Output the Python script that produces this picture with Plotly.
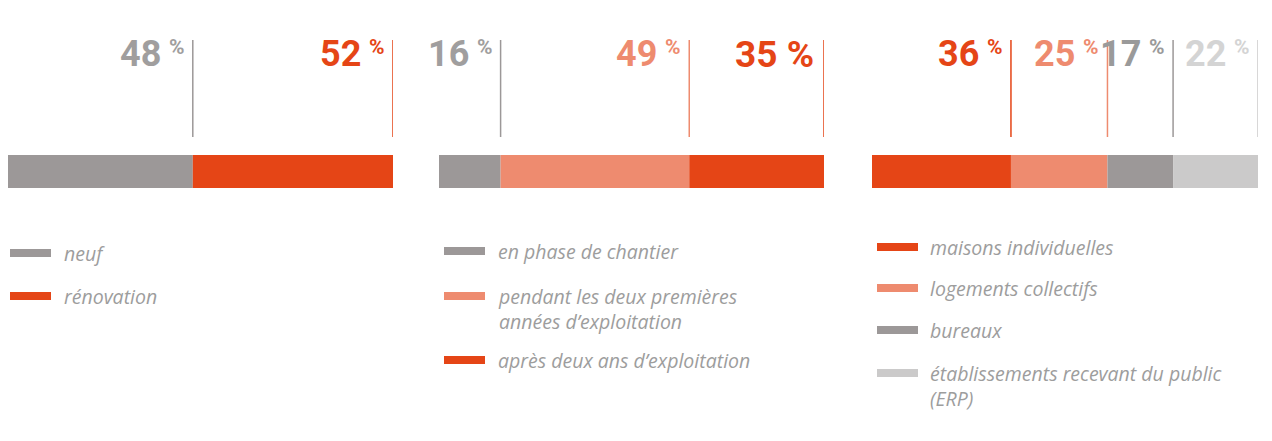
import plotly.graph_objects as go

# ---- data ----
p1_cats = ["neuf", "rénovation"]
p1_vals = [48, 52]
p2_cats = ["en phase de chantier",
           "pendant les deux premières<br>années d’exploitation",
           "après deux ans d’exploitation"]
p2_vals = [16, 49, 35]
p3_cats = ["maisons individuelles", "logements collectifs", "bureaux",
           "établissements recevant du public<br>(ERP)"]
p3_vals = [36, 25, 17, 22]

# ---- styles ----
GREY = "#9c9898"
RED = "#e54516"
SALMON = "#ee8b6f"
LIGHT = "#cbcaca"
p1_colors = [GREY, RED]
p2_colors = [GREY, SALMON, RED]
p3_colors = [RED, SALMON, GREY, LIGHT]
p1_lab = ["#a09e9e", RED]
p2_lab = ["#a09e9e", SALMON, RED]
p3_lab = [RED, SALMON, "#9a9a9a", "#d4d4d4"]
p2_bigpct = [False, False, True]

W, H = 1272, 441
def py(p):
    return 1 - p / H
def px(p):
    return p / W

panels = [
    dict(cats=p1_cats, vals=p1_vals, colors=p1_colors, lab=p1_lab, big=[False, False],
         dom=(8, 393), sw=(10, 51), tx=63, rows=[253, 296]),
    dict(cats=p2_cats, vals=p2_vals, colors=p2_colors, lab=p2_lab, big=p2_bigpct,
         dom=(439, 824), sw=(444, 485), tx=497, rows=[251, 296, 360]),
    dict(cats=p3_cats, vals=p3_vals, colors=p3_colors, lab=p3_lab, big=[False] * 4,
         dom=(872, 1258), sw=(877, 918), tx=929, rows=[247, 288, 330, 373]),
]

fig = go.Figure()
shapes = []
annotations = []
NUMFONT = "Roboto"
TXTFONT = "Open Sans"
LEGCOL = "#9d9d9d"
LEGSIZE = 19.5

for i, p in enumerate(panels):
    sfx = "" if i == 0 else str(i + 1)
    xa, ya = "x" + sfx, "y" + sfx
    cum = 0
    for cat, v, col, lc, big, row in zip(p["cats"], p["vals"], p["colors"], p["lab"], p["big"], p["rows"]):
        fig.add_trace(go.Bar(x=[v], y=[0], base=[cum], orientation="h", width=1,
                             marker=dict(color=col, line=dict(width=0)),
                             name=cat.replace("<br>", " "), showlegend=False,
                             xaxis=xa, yaxis=ya, hoverinfo="name+x"))
        end = cum + v
        # vertical marker line
        shapes.append(dict(type="line", xref=xa, yref="paper", x0=end, x1=end,
                           y0=py(137), y1=py(40), line=dict(color=col, width=1.5)))
        # value label
        if big:
            annotations.append(dict(xref=xa, yref="paper", x=end, y=py(32), xanchor="right",
                                    yanchor="top", xshift=-9, showarrow=False, borderpad=0,
                                    text=f"{v} %", font=dict(family=NUMFONT, size=37, color=lc, weight="bold")))
        else:
            annotations.append(dict(xref=xa, yref="paper", x=end, y=py(32), xanchor="right",
                                    yanchor="top", xshift=-31, showarrow=False, borderpad=0,
                                    text=str(v), font=dict(family=NUMFONT, size=36, color=lc, weight="bold")))
            annotations.append(dict(xref=xa, yref="paper", x=end, y=py(34), xanchor="right",
                                    yanchor="top", xshift=-7, showarrow=False, borderpad=0,
                                    text="%", font=dict(family=NUMFONT, size=21, color=lc, weight="bold")))
        # legend swatch + label
        shapes.append(dict(type="rect", xref="paper", yref="paper",
                           x0=px(p["sw"][0]), x1=px(p["sw"][1]), y0=py(row + 4), y1=py(row - 4),
                           fillcolor=col, line=dict(width=0)))
        annotations.append(dict(xref="paper", yref="paper", x=px(p["tx"]), y=py(row - 14),
                                xanchor="left", yanchor="top", align="left", showarrow=False,
                                borderpad=0, text=f"<i>{cat}</i>",
                                font=dict(family=TXTFONT, size=LEGSIZE, color=LEGCOL)))
        cum = end

    fig.layout["xaxis" + sfx] = dict(domain=[px(p["dom"][0]), px(p["dom"][1])], range=[0, 100],
                                     visible=False, fixedrange=True, anchor=ya)
    fig.layout["yaxis" + sfx] = dict(domain=[py(188), py(155)], range=[-0.5, 0.5],
                                     visible=False, fixedrange=True, anchor=xa)

fig.update_layout(width=W, height=H, margin=dict(l=0, r=0, t=0, b=0),
                  paper_bgcolor="white", plot_bgcolor="white", barmode="overlay",
                  shapes=shapes, annotations=annotations, showlegend=False)

fig.write_html("out.html", config={"displayModeBar": False})
